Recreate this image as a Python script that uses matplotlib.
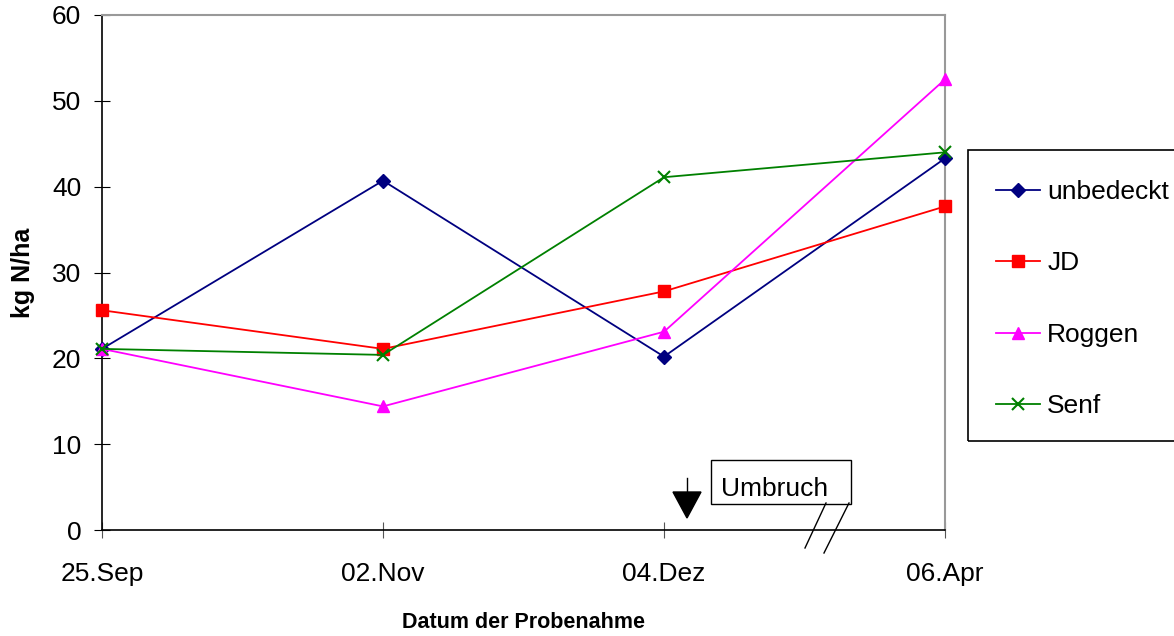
import matplotlib.pyplot as plt
from matplotlib.lines import Line2D
from matplotlib.patches import Rectangle

plt.rcParams['font.family'] = ['Liberation Sans', 'DejaVu Sans']

dates = ['25.Sep', '02.Nov', '04.Dez', '06.Apr']
unbedeckt = [21.1, 40.7, 20.2, 43.3]
jd = [25.6, 21.1, 27.8, 37.7]
roggen = [21.1, 14.4, 23.1, 52.5]
senf = [21.1, 20.4, 41.1, 44.0]

W, H = 1174, 636
fig = plt.figure(figsize=(W / 100, H / 100), dpi=100)
ax = fig.add_axes([102 / W, 1 - 530 / H, 843 / W, 515 / H])

x = range(len(dates))
ax.plot(x, unbedeckt, color='#000080', marker='D', markersize=7, lw=1.3, label='unbedeckt', clip_on=False, zorder=3)
ax.plot(x, jd, color='#ff0000', marker='s', markersize=8, lw=1.3, label='JD', clip_on=False, zorder=3)
ax.plot(x, roggen, color='#ff00ff', marker='^', markersize=9, lw=1.3, label='Roggen', clip_on=False, zorder=3)
ax.plot(x, senf, color='#008000', marker='x', markersize=9, mew=1.5, lw=1.3, label='Senf', clip_on=False, zorder=3)

ax.set_xlim(0, 3)
ax.set_ylim(0, 60)
ax.set_yticks(range(0, 61, 10))
ax.set_xticks(list(x))
ax.set_xticklabels(dates)
ax.tick_params(axis='x', direction='inout', length=12, pad=17, labelsize=19, color='#555555')
ax.tick_params(axis='y', direction='inout', length=12, pad=9, labelsize=19)

for s in ['top', 'right']:
    ax.spines[s].set_color('#999999')
    ax.spines[s].set_linewidth(1.5)
for s in ['left', 'bottom']:
    ax.spines[s].set_color('black')
    ax.spines[s].set_linewidth(1.2)

ax.set_ylabel('kg N/ha', fontsize=18, fontweight='bold', labelpad=12)
ax.set_xlabel('Datum der Probenahme', fontsize=15.5, fontweight='bold', labelpad=18.5)

# Umbruch annotation
fig.add_artist(Line2D([687 / W, 687 / W], [1 - 478 / H, 1 - 492 / H], color='black', lw=1))
fig.add_artist(plt.Polygon([[673 / W, 1 - 492 / H], [701 / W, 1 - 492 / H], [687 / W, 1 - 518 / H]],
                           closed=True, color='black'))
fig.add_artist(Rectangle((711 / W, 1 - 504 / H), 140 / W, 44 / H, fill=False, ec='black', lw=1))
fig.text(721 / W, 1 - 489 / H, 'Umbruch', fontsize=19, va='center', ha='left')
fig.add_artist(Line2D([826 / W, 805 / W], [1 - 503 / H, 1 - 548 / H], color='black', lw=1))
fig.add_artist(Line2D([849 / W, 824 / W], [1 - 503 / H, 1 - 553 / H], color='black', lw=1))

# legend
fig.add_artist(Rectangle((968 / W, 1 - 441 / H), 210 / W, 291 / H, fill=False, ec='black', lw=1.2))
handles, labels = ax.get_legend_handles_labels()
leg = fig.legend(handles, labels, loc='upper left', bbox_to_anchor=(996 / W, 1 - 180 / H),
                 frameon=False, fontsize=19, labelspacing=1.8, handlelength=1.67, handletextpad=0.27,
                 borderpad=0, borderaxespad=0)

fig.savefig('out.png', dpi=100)
